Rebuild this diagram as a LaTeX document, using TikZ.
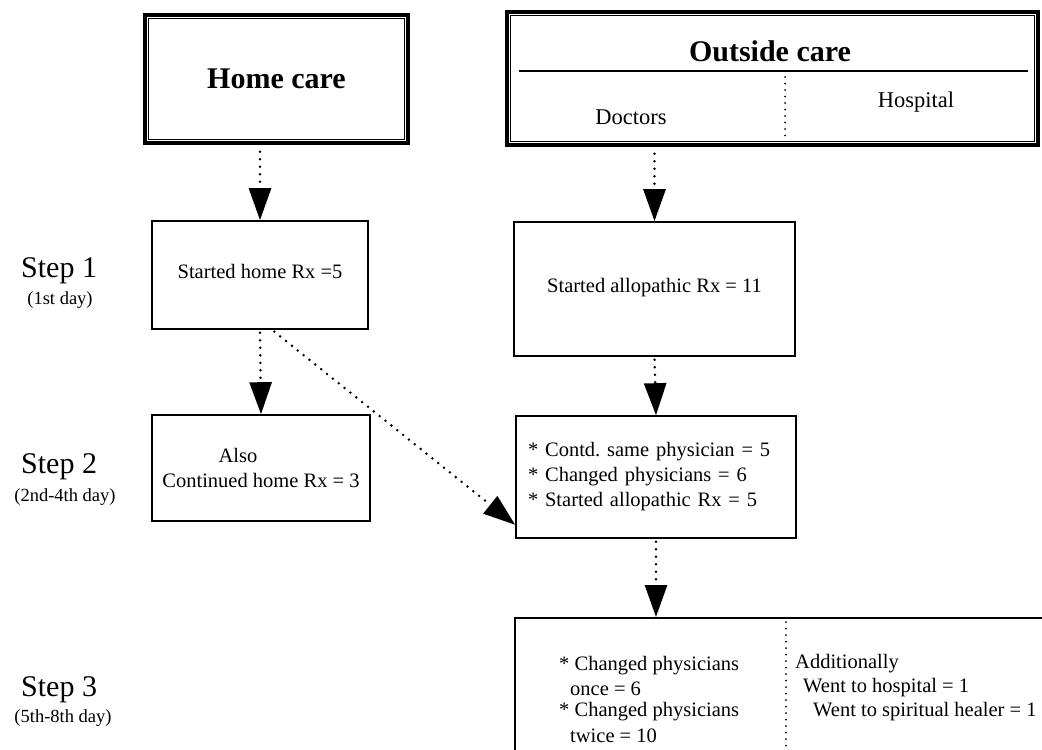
\documentclass[tikz,border=0pt]{standalone}
\usepackage{fontspec}
\setmainfont{Liberation Serif}
\usetikzlibrary{arrows.meta}

\tikzset{
  box/.style={draw, line width=1.6pt, inner sep=0pt, font=\fontsize{20.5}{25}\selectfont},
  headbox/.style={draw, line width=3.5pt, inner sep=0pt},
  inframe/.style={line width=1.1pt},
  flow/.style={line width=2.8pt, dash pattern=on 0pt off 7.5pt, line cap=round,
    -{Triangle[length=32pt,width=22pt]}, shorten <=7pt},
  sep/.style={line width=2pt, dash pattern=on 0pt off 6.5pt, line cap=round},
  txt/.style={font=\fontsize{20.5}{25}\selectfont, inner sep=0pt},
  steplabel/.style={font=\fontsize{30}{30}\selectfont, inner sep=0pt},
  daylabel/.style={font=\fontsize{18.5}{20}\selectfont, inner sep=0pt},
}

\begin{document}
\frenchspacing
\begin{tikzpicture}[x=1pt, y=-1pt]
  \clip (0,0) rectangle (1042,750);

  % header boxes
  \node[headbox, minimum width=263pt, minimum height=128pt,
        font=\fontsize{30}{30}\selectfont\bfseries] (home) at (276.5,79) {Home care};
  \draw[inframe] ([shift={(5,5)}]home.north west) rectangle ([shift={(-5,-5)}]home.south east);

  \node[headbox, minimum width=531pt, minimum height=133pt] (outside) at (772.5,78.5) {};
  \draw[inframe] ([shift={(5,5)}]outside.north west) rectangle ([shift={(-5,-5)}]outside.south east);
  \node[inner sep=0pt, font=\fontsize{30}{30}\selectfont\bfseries] (outtitle) at (770,51) {Outside care};
  \coordinate (rulel) at (519,71);
  \coordinate (ruler) at (1028,71);
  \draw[line width=1.5pt] (rulel) -- (ruler);
  \coordinate (septop) at (785,77);
  \coordinate (sepbot) at (785,142);
  \draw[sep] (septop) -- (sepbot);
  \node[inner sep=0pt, font=\fontsize{22.5}{25}\selectfont] (doctors) at (631,117) {Doctors};
  \node[inner sep=0pt, font=\fontsize{22.5}{25}\selectfont] (hospital) at (916,102) {Hospital};

  % step labels
  \node[steplabel, anchor=west] (step1) at (21,271) {Step 1};
  \node[daylabel] (day1) at (60,300) {(1st day)};
  \node[steplabel, anchor=west] (step2) at (21,467) {Step 2};
  \node[daylabel] (day2) at (65,497) {(2nd-4th day)};
  \node[steplabel, anchor=west] (step3) at (21,690) {Step 3};
  \node[daylabel] (day3) at (63,718) {(5th-8th day)};

  % step 1
  \node[box, minimum width=216pt, minimum height=108pt] (s1home) at (260,275)
    {\raisebox{8pt}{Started home Rx =5}};
  \node[box, minimum width=281pt, minimum height=134pt] (s1out) at (654.5,289)
    {\raisebox{8pt}{Started allopathic Rx = 11}};

  % step 2
  \node[box, minimum width=218pt, minimum height=106pt, align=center] (s2home) at (261,468)
    {\hspace*{-46pt}Also\\Continued home Rx = 3};
  \node[box, text width=256pt, inner xsep=12pt, minimum height=122pt, align=left] (s2out) at (656,477)
    {* Contd. same physician = 5\\{}* Changed physicians = 6\\{}* Started allopathic Rx = 5};

  % step 3
  \node[box, anchor=north west, minimum width=600pt, minimum height=200pt] (s3out) at (514,617) {};
  \coordinate (sep3top) at (786,622);
  \coordinate (sep3bot) at (786,750);
  \draw[sep] (sep3top) -- (sep3bot);
  \node[txt, anchor=west] (once1) at (559,666) {* Changed physicians};
  \node[txt, anchor=west] (once2) at (570,689) {once = 6};
  \node[txt, anchor=west] (twice1) at (559,712) {* Changed physicians};
  \node[txt, anchor=west] (twice2) at (570,736) {twice = 10};
  \node[txt, anchor=west] (addl) at (795,664) {Additionally};
  \node[txt, anchor=west] (hosp) at (803,688) {Went to hospital = 1};
  \node[txt, anchor=west] (healer) at (813,712) {Went to spiritual healer = 1};

  % connectors
  \draw[flow] (s1home.north |- home.south) -- (s1home.north);
  \draw[flow] (s1out.north |- outside.south) -- (s1out.north);
  \draw[flow, shorten <=3pt] (s1home.south) -- (s2home.north);
  \draw[flow, shorten <=3pt] ([xshift=12pt]s1home.south) -- ([yshift=14pt]s2out.south west);
  \draw[flow, shorten <=3pt] (s1out.south) -- (s2out.north);
  \draw[flow, shorten <=3pt] (s2out.south) -- (s3out.north west -| s2out.south);
\end{tikzpicture}
\end{document}
